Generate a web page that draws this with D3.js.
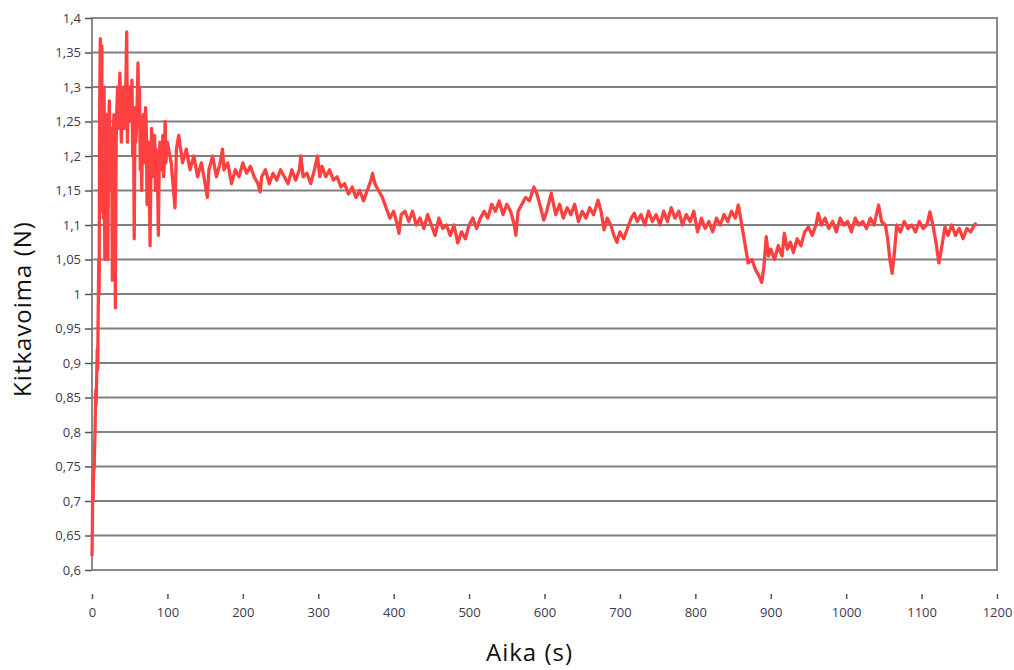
<!DOCTYPE html>
<html>
<head>
<meta charset="utf-8">
<script src="https://cdn.jsdelivr.net/npm/d3@7"></script>
<style>
  body { margin: 0; background: #fff; }
  svg text { font-family: "Open Sans", "DejaVu Sans", sans-serif; }
</style>
</head>
<body>
<svg id="chart" width="1014" height="670"></svg>
<script>
// aika (s) ja kitkavoima (N), luettu kuvasta
const aika = [0,0.5,1,1.5,2,3,3.5,4,5,5.5,6,7,7.5,8,9,9.5,10,11,11.5,12,13,13.5,14,15,15.5,16,17,18,19,20,21,22,23,24,25,26,27,28,29,30,31,32,33,34,35,36,37,38,39,40,41,42,43,44,45,46,47,48,49,50,51,52,53,54,55,56,57,58,59,60,61,62,63,64,65,66,67,68,69,70,71,72,73,74,75,76,77,78,79,80,81,82,83,84,85,86,87,88,89,90,91,92,93,94,95,96,97,98,99,
  100,105,110,112,115,120,125,130,135,140,145,150,153,155,160,165,170,173,175,180,185,190,195,200,205,210,215,220,223,225,230,235,240,245,250,255,260,265,270,275,277,280,285,290,295,299,302,305,310,315,320,325,330,335,340,345,350,355,360,365,370,372,375,380,385,390,395,400,405,407,410,415,420,425,430,435,440,445,450,455,460,465,470,475,480,485,490,495,
  500,505,510,515,520,525,530,535,540,545,550,555,560,562,565,570,575,580,586,590,595,599,603,609,612,615,620,625,630,635,640,645,650,655,660,665,671,675,679,683,688,692,696,700,705,710,715,719,723,728,733,738,743,748,753,758,763,768,773,778,783,788,793,798,803,808,813,818,823,828,833,838,843,848,853,857,860,865,870,875,880,885,888,891,894,897,
  900,905,910,915,918,922,926,930,935,940,945,950,955,960,963,967,972,977,982,987,992,997,1002,1007,1012,1017,1022,1027,1032,1037,1043,1047,1052,1055,1058,1061,1064,1067,1072,1077,1082,1087,1092,1097,1102,1107,1111,1115,1119,1123,1127,1131,1135,1140,1145,1150,1155,1160,1165,1170,1173];
const kitka = [0.62,0.66,0.73,0.70,0.74,0.75,0.78,0.80,0.86,0.84,0.87,0.92,0.89,0.95,1.05,1.00,1.25,1.37,1.15,1.26,1.36,1.12,1.22,1.11,1.27,1.30,1.05,1.24,1.26,1.12,1.05,1.23,1.28,1.20,1.15,1.24,1.02,1.20,1.26,1.25,0.98,1.22,1.27,1.30,1.24,1.29,1.32,1.26,1.22,1.28,1.25,1.30,1.24,1.27,1.31,1.38,1.22,1.29,1.25,1.30,1.27,1.25,1.31,1.20,1.26,1.08,1.27,1.22,1.24,1.28,1.335,1.25,1.30,1.18,1.22,1.15,1.25,1.26,1.19,1.20,1.27,1.24,1.13,1.21,1.22,1.16,1.07,1.18,1.24,1.22,1.17,1.20,1.23,1.15,1.21,1.19,1.16,1.085,1.18,1.22,1.21,1.18,1.19,1.23,1.17,1.20,1.25,1.19,1.21,
  1.22,1.19,1.125,1.21,1.23,1.19,1.21,1.18,1.20,1.17,1.19,1.16,1.14,1.18,1.20,1.17,1.19,1.21,1.18,1.19,1.16,1.18,1.17,1.19,1.175,1.185,1.17,1.16,1.148,1.17,1.18,1.16,1.175,1.165,1.18,1.17,1.16,1.18,1.165,1.18,1.20,1.17,1.175,1.16,1.18,1.20,1.17,1.185,1.17,1.18,1.165,1.17,1.155,1.16,1.145,1.155,1.14,1.15,1.135,1.15,1.165,1.175,1.16,1.15,1.14,1.125,1.11,1.12,1.10,1.088,1.115,1.12,1.105,1.12,1.10,1.11,1.095,1.115,1.10,1.085,1.11,1.095,1.10,1.085,1.10,1.074,1.09,1.08,
  1.10,1.11,1.095,1.11,1.12,1.11,1.13,1.12,1.135,1.115,1.13,1.12,1.10,1.085,1.12,1.13,1.14,1.135,1.155,1.145,1.125,1.107,1.12,1.146,1.13,1.115,1.13,1.11,1.125,1.115,1.13,1.105,1.12,1.11,1.125,1.115,1.136,1.12,1.093,1.11,1.10,1.085,1.075,1.09,1.08,1.095,1.11,1.117,1.105,1.115,1.10,1.12,1.105,1.115,1.10,1.12,1.105,1.125,1.11,1.12,1.10,1.115,1.105,1.12,1.09,1.11,1.095,1.105,1.09,1.11,1.10,1.115,1.105,1.12,1.11,1.129,1.11,1.078,1.045,1.05,1.035,1.025,1.017,1.04,1.083,1.055,
  1.065,1.05,1.07,1.055,1.088,1.065,1.075,1.06,1.08,1.07,1.09,1.097,1.085,1.10,1.117,1.10,1.11,1.095,1.105,1.09,1.11,1.10,1.105,1.09,1.11,1.10,1.105,1.095,1.11,1.10,1.129,1.105,1.10,1.08,1.05,1.03,1.06,1.10,1.09,1.105,1.095,1.10,1.09,1.105,1.095,1.10,1.119,1.10,1.075,1.045,1.07,1.097,1.085,1.10,1.085,1.095,1.08,1.095,1.09,1.10,1.103];
const xTicks = [0,100,200,300,400,500,600,700,800,900,1000,1100,1200];
const yTicks = [0.6,0.65,0.7,0.75,0.8,0.85,0.9,0.95,1,1.05,1.1,1.15,1.2,1.25,1.3,1.35,1.4];

const svg = d3.select("#chart");
const m = {left: 92, right: 17, top: 18, bottom: 100};
const W = 1014, H = 670;

const x = d3.scaleLinear().domain([0, 1200]).range([m.left, W - m.right]);
const y = d3.scaleLinear().domain([0.6, 1.4]).range([H - m.bottom, m.top]);
const fmt = d => String(d).replace(".", ",");

// vaakaviivat
svg.append("g").selectAll("line").data(yTicks).enter()
  .append("line")
  .attr("x1", x(0)).attr("x2", x(1200))
  .attr("y1", d => y(d)).attr("y2", d => y(d))
  .attr("stroke", "#808080").attr("stroke-width", 2);

svg.append("rect")
  .attr("x", x(0)).attr("y", y(1.4))
  .attr("width", x(1200) - x(0)).attr("height", y(0.6) - y(1.4))
  .attr("fill", "none").attr("stroke", "#8a8a8a").attr("stroke-width", 2);

// y-akseli
const gy = svg.append("g")
  .attr("transform", `translate(${x(0)},0)`)
  .call(d3.axisLeft(y).tickValues(yTicks).tickFormat(fmt).tickSize(7).tickPadding(4));
gy.select(".domain").remove();
gy.selectAll("line").attr("stroke", "#555").attr("stroke-width", 1.5);
gy.selectAll("text").attr("font-size", 13).attr("fill", "#3a3a50");

// x-akseli
const gx = svg.append("g")
  .attr("transform", `translate(0,${y(0.6) + 24})`)
  .call(d3.axisBottom(x).tickValues(xTicks).tickFormat(d => String(d)).tickSize(5).tickPadding(9));
gx.select(".domain").remove();
gx.selectAll("line").attr("stroke", "#555").attr("stroke-width", 1.5);
gx.selectAll("text").attr("font-size", 13).attr("fill", "#3a3a50");

// data
const pts = aika.map((t, i) => [t, kitka[i]]);
svg.append("path")
  .datum(pts)
  .attr("fill", "none")
  .attr("stroke", "#ff4040")
  .attr("stroke-width", 3.3)
  .attr("stroke-linejoin", "round")
  .attr("d", d3.line().x(d => x(d[0])).y(d => y(d[1])));

svg.append("text")
  .attr("x", (x(0) + x(1200)) / 2 - 15).attr("y", 661)
  .attr("text-anchor", "middle").attr("font-size", 24).attr("letter-spacing", 1)
  .attr("fill", "#111")
  .text("Aika (s)");

svg.append("text")
  .attr("transform", `translate(31,${(y(0.6) + y(1.4)) / 2 + 15}) rotate(-90)`)
  .attr("text-anchor", "middle").attr("font-size", 24).attr("letter-spacing", 1)
  .attr("fill", "#111")
  .text("Kitkavoima (N)");
</script>
</body>
</html>
